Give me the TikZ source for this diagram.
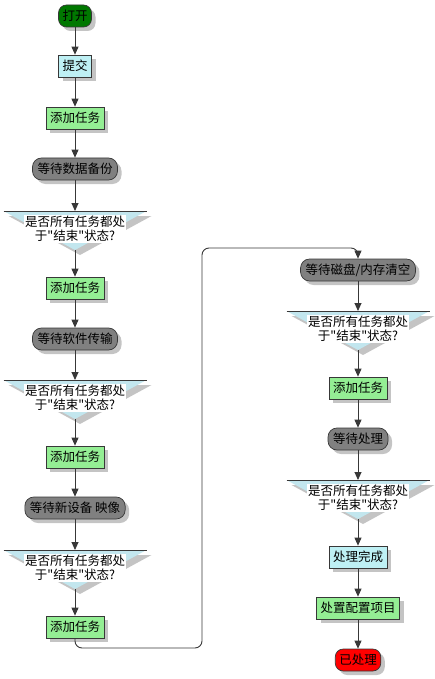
\documentclass[tikz,border=0pt]{standalone}
\usepackage{fontspec}
\setmainfont{Noto Sans CJK SC}[Ligatures=TeXOff]
\usetikzlibrary{arrows.meta,shadows}
\definecolor{startgreen}{HTML}{007800}
\definecolor{submitcyan}{HTML}{BEF0F4}
\definecolor{taskgreen}{HTML}{94EE94}
\definecolor{waitgray}{HTML}{808080}
\definecolor{decblue}{HTML}{C2E6EE}
\definecolor{edgegray}{HTML}{383838}
\definecolor{shadowgray}{HTML}{C4C4C4}
\newcommand{\decision}[3]{\fill[shadowgray] (#2-66.5,#3-5) -- (#2+76.5,#3-5) -- (#2+5,#3-44) -- cycle;
\fill[decblue] (#2-71.5,#3) -- (#2+71.5,#3) -- (#2,#3-39) -- cycle;
\draw[edgegray, line width=0.8pt] (#2-71.5,#3) -- (#2+71.5,#3);
\coordinate (#1-in) at (#2,#3); \coordinate (#1-out) at (#2,#3-39);
\node[dectext] (#1) at (#2,#3-18) {是否所有任务都处\\于"结束"状态?};}

\begin{document}
\begin{tikzpicture}[x=1pt, y=1pt, font=\fontsize{12.5}{14}\selectfont,
  box/.style = {draw=edgegray, line width=0.7pt, minimum height=22pt, inner xsep=4pt, inner ysep=2pt,
    drop shadow={shadow xshift=4pt, shadow yshift=-4pt, fill=shadowgray, opacity=1}},
  terminal/.style = {box, rounded corners=8pt},
  submitbox/.style = {box, fill=submitcyan},
  taskbox/.style = {box, fill=taskgreen},
  waitbox/.style = {box, fill=waitgray, rounded corners=9pt, inner xsep=5pt},
  dectext/.style = {fill=white, align=center, inner sep=1pt},
  flow/.style = {draw=edgegray, line width=0.9pt, -{Triangle[length=8pt, width=7pt]}}]
\useasboundingbox (0,0) rectangle (435,-679);
% left column
\node[terminal, fill=startgreen] (start) at (75,-16) {打开};
\node[submitbox] (submit) at (75,-66) {提交};
\node[taskbox] (add1) at (75,-118) {添加任务};
\node[waitbox] (wait1) at (75,-169) {等待数据备份};
\decision{dec1}{75}{-211}
\node[taskbox] (add2) at (75,-288) {添加任务};
\node[waitbox] (wait2) at (75,-339) {等待软件传输};
\decision{dec2}{75}{-380}
\node[taskbox] (add3) at (75,-457) {添加任务};
\node[waitbox] (wait3) at (75,-508) {等待新设备 映像};
\decision{dec3}{75}{-550}
\node[taskbox] (add4) at (75,-627) {添加任务};
% right column
\node[waitbox] (wait4) at (358,-270) {等待磁盘/内存清空};
\decision{dec4}{358}{-311}
\node[taskbox] (add5) at (358,-388) {添加任务};
\node[waitbox] (wait5) at (358,-439) {等待处理};
\decision{dec5}{358}{-480}
\node[submitbox] (done) at (358,-557) {处理完成};
\node[taskbox] (dispose) at (358,-608) {处置配置项目};
\node[terminal, fill=red] (finish) at (358,-660) {已处理};
\coordinate (turnA) at (202,-648);
\coordinate (turnB) at (202,-248);
% connectors
\draw[flow] (start) -- (submit);
\draw[flow] (submit) -- (add1);
\draw[flow] (add1) -- (wait1);
\draw[flow] (wait1) -- (dec1-in);
\draw[flow] (dec1-out) -- (add2);
\draw[flow] (add2) -- (wait2);
\draw[flow] (wait2) -- (dec2-in);
\draw[flow] (dec2-out) -- (add3);
\draw[flow] (add3) -- (wait3);
\draw[flow] (wait3) -- (dec3-in);
\draw[flow] (dec3-out) -- (add4);
\draw[flow, rounded corners=7pt] (add4.south) |- (turnA) -- (turnB) -| (wait4.north);
\draw[flow] (wait4) -- (dec4-in);
\draw[flow] (dec4-out) -- (add5);
\draw[flow] (add5) -- (wait5);
\draw[flow] (wait5) -- (dec5-in);
\draw[flow] (dec5-out) -- (done);
\draw[flow] (done) -- (dispose);
\draw[flow] (dispose) -- (finish);
\end{tikzpicture}
\end{document}
